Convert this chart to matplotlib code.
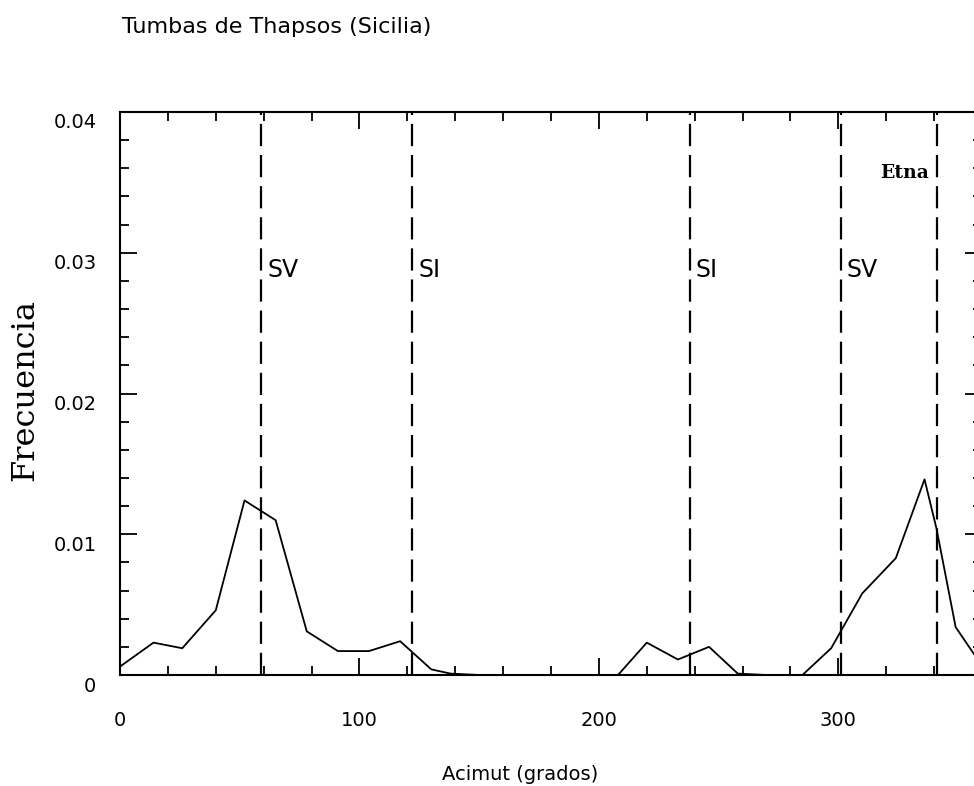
import numpy as np
import matplotlib
matplotlib.use("Agg")
from matplotlib import pyplot as plt
from matplotlib.transforms import ScaledTranslation
from matplotlib.ticker import MultipleLocator, FixedFormatter, FixedLocator

##### data #####
azimut = [0, 14, 26, 40, 52, 65, 78, 91, 104, 117, 130, 138, 150, 195,
          208, 220, 233, 246, 258, 270, 285, 297, 310, 324, 336, 341,
          349, 357, 360]
frecuencia = [0.0006, 0.0023, 0.0019, 0.0046, 0.0124, 0.0110, 0.0031,
              0.0017, 0.0017, 0.0024, 0.0004, 0.0001, 0.0, 0.0,
              0.0, 0.0023, 0.0011, 0.0020, 0.0001, 0.0, 0.0, 0.0019,
              0.0058, 0.0083, 0.0139, 0.0104, 0.0034, 0.0014, 0.0009]

# reference directions (solsticios, Etna)
ref_az = [59, 122, 238, 301, 341]
ref_lab = ['SV', 'SI', 'SI', 'SV', 'Etna']

yticks = [0, 0.01, 0.02, 0.03, 0.04]
ytick_labels = ['0', '0.01', '0.02', '0.03', '0.04']
xticks = [0, 100, 200, 300]
xtick_labels = ['0', '100', '200', '300']

##### figure #####
fig = plt.figure(figsize=(9.74, 7.86), dpi=100)
# axes runs a bit past the right edge of the picture, as in the original
ax = fig.add_axes([120/974, 111/786, 862/974, 563/786])

ax.plot(azimut, frecuencia, '-', color='black', lw=1.3)

for a in ref_az:
    ax.axvline(a, color='black', ls=(0, (10, 4)), lw=1.6)

for a, lab in zip(ref_az, ref_lab):
    if lab == 'Etna':
        ax.text(a - 3, 0.0357, lab, family='DejaVu Serif', weight='bold',
                fontsize=13.5, ha='right', va='center')
    else:
        ax.text(a + 2.5, 0.0288, lab, family='DejaVu Sans', fontsize=17,
                ha='left', va='center')

ax.set_xlim(0, 360)
ax.set_ylim(0, 0.04)

ax.xaxis.set_major_locator(FixedLocator(xticks))
ax.xaxis.set_major_formatter(FixedFormatter(xtick_labels))
ax.xaxis.set_minor_locator(MultipleLocator(20))
ax.yaxis.set_major_locator(FixedLocator(yticks))
ax.yaxis.set_major_formatter(FixedFormatter(ytick_labels))
ax.yaxis.set_minor_locator(MultipleLocator(0.002))

ax.tick_params(which='both', direction='in', top=True, right=True,
               width=1.3, color='black')
ax.tick_params(which='major', length=12)
ax.tick_params(which='minor', length=6.5)
ax.tick_params(axis='x', which='major', pad=26, labelsize=14)
ax.tick_params(axis='y', which='major', pad=17, labelsize=14)

for s in ax.spines.values():
    s.set_linewidth(1.5)

# labels in the original sit a little below their ticks
off = ScaledTranslation(0, -9/100, fig.dpi_scale_trans)
for lab in ax.get_yticklabels():
    lab.set_transform(lab.get_transform() + off)

fig.text(122/974, 1 - 27/786, 'Tumbas de Thapsos (Sicilia)', fontsize=16,
         ha='left', va='center')
fig.text(520/974, 1 - 774/786, 'Acimut (grados)', fontsize=14,
         ha='center', va='center')
fig.text(25/974, 1 - 390/786, 'Frecuencia', family='DejaVu Serif',
         fontsize=23, rotation=90, ha='center', va='center')

fig.savefig('out.png', dpi=100)
